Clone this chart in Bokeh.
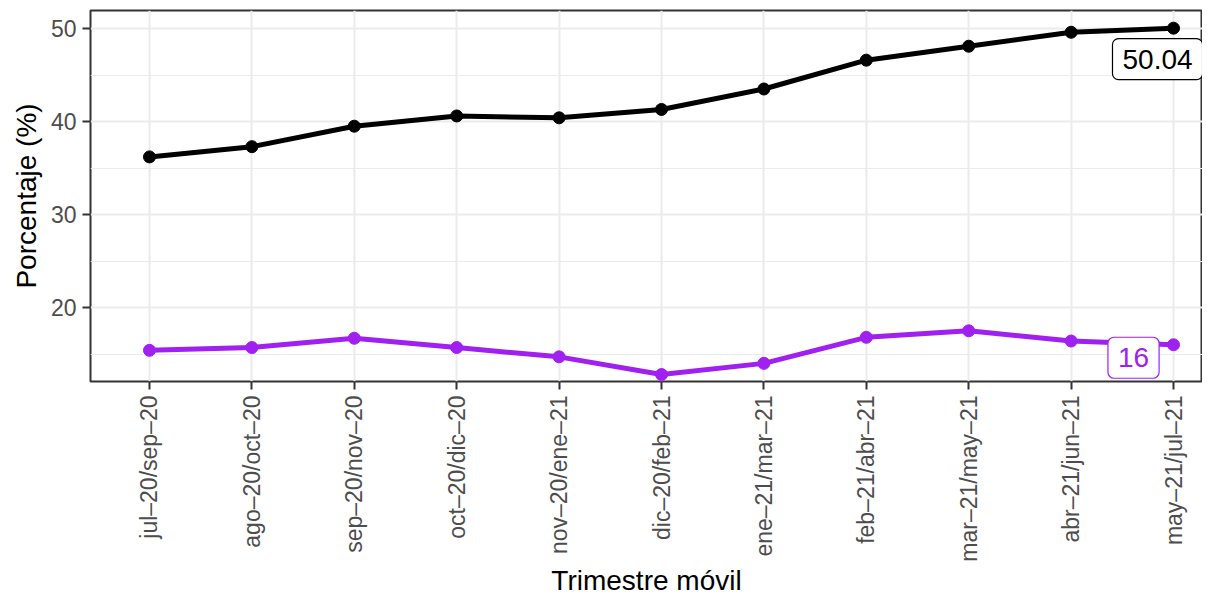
from bokeh.plotting import figure
from bokeh.models import Range1d, FixedTicker, Label
from bokeh.embed import file_html
from bokeh.resources import INLINE

categories = ["jul–20/sep–20", "ago–20/oct–20", "sep–20/nov–20", "oct–20/dic–20",
              "nov–20/ene–21", "dic–20/feb–21", "ene–21/mar–21", "feb–21/abr–21",
              "mar–21/may–21", "abr–21/jun–21", "may–21/jul–21"]
serie_negra = [36.2, 37.3, 39.5, 40.6, 40.4, 41.3, 43.5, 46.6, 48.1, 49.6, 50.04]
serie_morada = [15.4, 15.7, 16.7, 15.7, 14.7, 12.8, 14.0, 16.8, 17.5, 16.4, 16.0]
y_ticks = [20, 30, 40, 50]
y_minor = [15, 25, 35, 45]

FONT = "Liberation Sans"
PURPLE = "#A020F0"

xs = list(range(len(categories)))

p = figure(frame_width=1112, frame_height=371, output_backend="svg", toolbar_location=None,
           x_range=Range1d(-0.576, len(categories) - 1 + 0.283),
           y_range=Range1d(12.05, 51.94),
           min_border_left=90, min_border_right=0, min_border_top=10, min_border_bottom=0)

p.background_fill_color = "white"
p.border_fill_color = "white"
p.outline_line_color = "#333333"
p.outline_line_width = 2

# grid
p.xgrid.ticker = FixedTicker(ticks=xs)
p.ygrid.ticker = FixedTicker(ticks=y_ticks, minor_ticks=y_minor)
for g in (p.xgrid, p.ygrid):
    g.grid_line_color = "#EBEBEB"
    g.grid_line_width = 2
p.ygrid.minor_grid_line_color = "#EBEBEB"
p.ygrid.minor_grid_line_width = 1

# axes
p.xaxis.ticker = FixedTicker(ticks=xs)
p.xaxis.major_label_overrides = {i: c for i, c in enumerate(categories)}
p.xaxis.major_label_orientation = 3.14159265 / 2
p.yaxis.ticker = FixedTicker(ticks=y_ticks)
for ax in (p.xaxis[0], p.yaxis[0]):
    ax.axis_line_color = None
    ax.major_tick_line_color = "#333333"
    ax.major_tick_line_width = 2
    ax.major_tick_in = 0
    ax.major_tick_out = 8
    ax.minor_tick_line_color = None
    ax.major_label_text_font = FONT
    ax.major_label_text_font_size = "23px"
    ax.major_label_text_color = "#4D4D4D"
    ax.axis_label_text_font = FONT
    ax.axis_label_text_font_size = "28px"
    ax.axis_label_text_font_style = "normal"
    ax.axis_label_text_color = "black"
p.xaxis.major_label_standoff = 6
p.yaxis.major_label_standoff = 6
p.xaxis.axis_label = "Trimestre móvil"
p.yaxis.axis_label = "Porcentaje (%)"
p.xaxis.axis_label_standoff = 0
p.yaxis.axis_label_standoff = 6

# series
p.line(xs, serie_negra, line_color="black", line_width=5)
p.scatter(xs, serie_negra, size=12, fill_color="black", line_color="black")
p.line(xs, serie_morada, line_color=PURPLE, line_width=5)
p.scatter(xs, serie_morada, size=12, fill_color=PURPLE, line_color=PURPLE)

# end labels
p.add_layout(Label(x=xs[-1], y=serie_negra[-1], x_offset=-16, y_offset=-31,
                   text=f"{serie_negra[-1]:g}", text_font=FONT, text_font_size="28px",
                   text_color="black", text_align="center", text_baseline="middle",
                   background_fill_color="white", border_line_color="black",
                   border_line_width=1.2, padding=(10, 11), border_radius=6))
p.add_layout(Label(x=xs[-1], y=serie_morada[-1], x_offset=-40, y_offset=-13,
                   text=f"{serie_morada[-1]:g}", text_font=FONT, text_font_size="28px",
                   text_color=PURPLE, text_align="center", text_baseline="middle",
                   background_fill_color="white", border_line_color=PURPLE,
                   border_line_width=1.2, padding=(10, 11), border_radius=6))

open("out.html", "w").write(file_html(p, INLINE))
